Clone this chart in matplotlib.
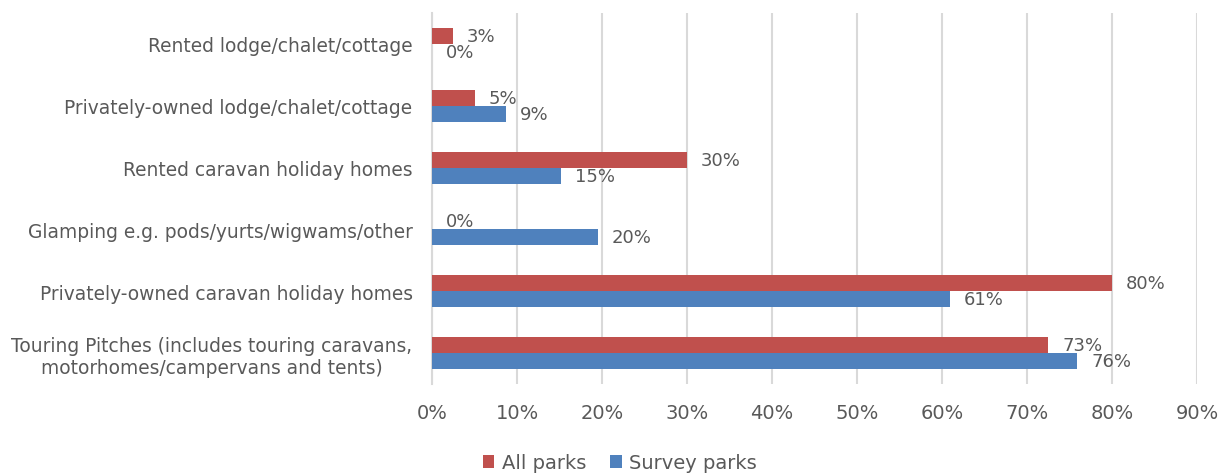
import matplotlib
matplotlib.use("Agg")
import matplotlib.pyplot as plt
import numpy as np

categories = [
    "Rented lodge/chalet/cottage",
    "Privately-owned lodge/chalet/cottage",
    "Rented caravan holiday homes",
    "Glamping e.g. pods/yurts/wigwams/other",
    "Privately-owned caravan holiday homes",
    "Touring Pitches (includes touring caravans,\nmotorhomes/campervans and tents)",
]
all_parks = [2.5, 5.0, 30.0, 0.0, 80.0, 72.5]
survey_parks = [0.0, 8.7, 15.2, 19.5, 60.9, 75.9]
series_names = ["All parks", "Survey parks"]
x_ticks = [0, 10, 20, 30, 40, 50, 60, 70, 80, 90]

RED = "#C0504D"
BLUE = "#4F81BD"
TXT = "#595959"
GRID = "#D9D9D9"

plt.rcParams['font.family'] = ['DejaVu Sans']
fig = plt.figure(figsize=(12.2, 4.77), dpi=100)
ax = fig.add_axes([432/1220, 1-385/477, (1197-432)/1220, (385-14)/477])

y = np.arange(len(categories))
h = 0.26
ax.barh(y - h/2, all_parks, height=h, color=RED, label=series_names[0], zorder=3)
ax.barh(y + h/2, survey_parks, height=h, color=BLUE, label=series_names[1], zorder=3)

fs = 14
dfs = 13
for yi, v in zip(y - h/2, all_parks):
    ax.annotate(f"{int(v + 0.5)}%", (v, yi), xytext=(10, 0), textcoords='offset points',
                ha='left', va='center', fontsize=dfs, color=TXT)
for yi, v in zip(y + h/2, survey_parks):
    ax.annotate(f"{int(v + 0.5)}%", (v, yi), xytext=(10, 0), textcoords='offset points',
                ha='left', va='center', fontsize=dfs, color=TXT)

ax.set_xlim(0, 90)
ax.set_ylim(len(categories) - 0.5, -0.5)
ax.set_xticks(x_ticks)
ax.set_xticklabels([f"{t}%" for t in x_ticks], fontsize=fs, color=TXT)
ax.set_yticks(y)
ax.set_yticklabels(categories, fontsize=13.4, color=TXT)
for lab in ax.get_yticklabels():
    lab.set_multialignment('center')
ax.tick_params(axis='x', length=0, pad=14)
ax.tick_params(axis='y', length=0, pad=14)
ax.grid(axis='x', color=GRID, linewidth=1.5, zorder=0)
for s in ['top', 'right', 'bottom']:
    ax.spines[s].set_visible(False)
ax.spines['left'].set_color(GRID)
ax.spines['left'].set_linewidth(1.5)

leg = fig.legend(loc='center', bbox_to_anchor=(620/1220, 1-464/477), ncol=2, frameon=False,
                 fontsize=fs, handlelength=0.6, handleheight=0.6, handletextpad=0.4,
                 columnspacing=1.2, labelcolor=TXT)

fig.savefig("out.png", dpi=100)
